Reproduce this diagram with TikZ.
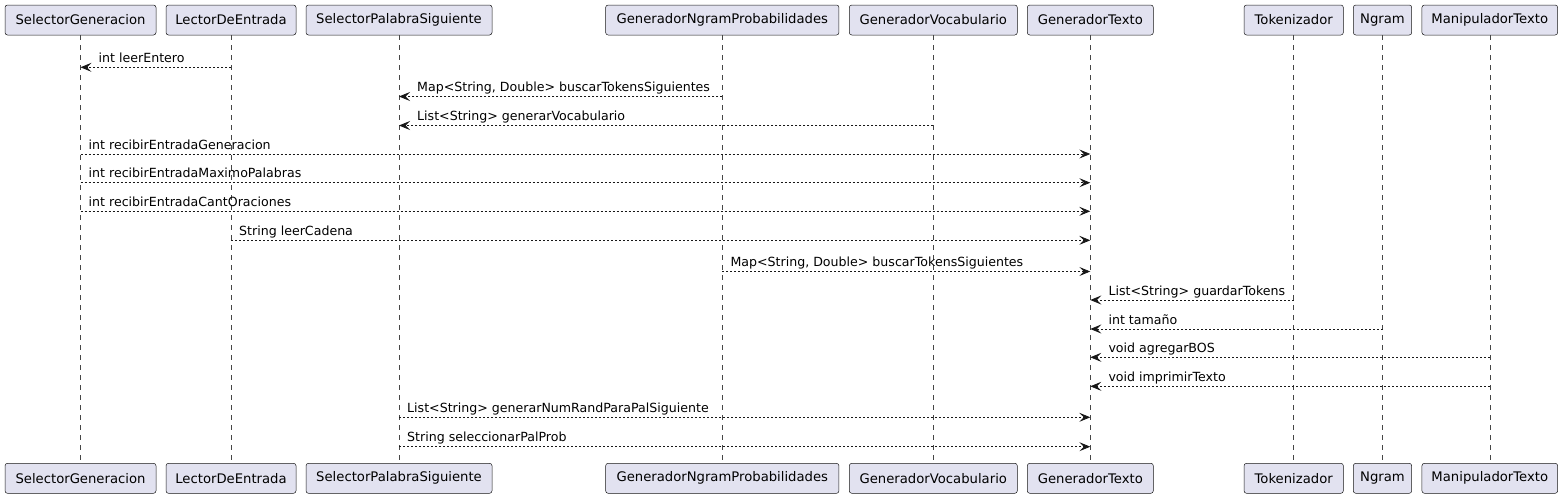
\documentclass[tikz,border=0pt]{standalone}
\usepackage{fontspec}
\setmainfont{DejaVu Sans}
\usepackage{xcolor}
\usetikzlibrary{arrows.meta}
\definecolor{umlfill}{RGB}{226,226,240}
\definecolor{umlline}{RGB}{24,24,24}
\tikzset{
  actor/.style={draw=umlline,fill=umlfill,line width=0.5pt,rounded corners=2.5pt,
    minimum height=30pt,inner sep=0pt,font=\fontsize{13.2}{16}\selectfont},
  lifeline/.style={umlline!80,line width=0.5pt,dash pattern=on 5pt off 5pt},
  msg/.style={umlline,line width=0.8pt,dash pattern=on 2pt off 2pt,
    -{Stealth[length=11pt,width=9pt,inset=4.5pt]}},
  msgtext/.style={anchor=base west,inner sep=0pt,text=black,font=\fontsize{12.6}{15}\selectfont}
}

\begin{document}
\begin{tikzpicture}[x=1pt,y=-1pt]
  \useasboundingbox (0,0) rectangle (1566,498);
  % participants, top and bottom, with their lifelines
  \foreach \name/\x/\w/\txt in {selGen/80.5/151/SelectorGeneracion,
      lector/231/130/LectorDeEntrada,
      selPal/399/186/SelectorPalabraSiguiente,
      genNgram/722.3/233.3/GeneradorNgramProbabilidades,
      genVoc/933.3/168/GeneradorVocabulario,
      genTxt/1090.3/126/GeneradorTexto,
      tok/1293.7/99.3/Tokenizador,
      ngram/1382.5/58.4/Ngram,
      manip/1489.8/135.7/ManipuladorTexto}{
    \node[actor,minimum width=\w pt] (\name-top) at (\x,20) {\txt};
    \node[actor,minimum width=\w pt] (\name-bot) at (\x,478.3) {\txt};
    \draw[lifeline] (\name-top) -- (\name-bot);
  }
  % replies pointing left
  \foreach \y/\src/\dst/\txt in {67.3/lector/selGen/int leerEntero,
      96.5/genNgram/selPal/{Map<String, Double> buscarTokensSiguientes},
      125.5/genVoc/selPal/{List<String> generarVocabulario},
      300/tok/genTxt/{List<String> guardarTokens},
      329/ngram/genTxt/int tamaño,
      357.3/manip/genTxt/void agregarBOS,
      386.3/manip/genTxt/void imprimirTexto}{
    \draw[msg] (\src-top |- 0,\y) -- (\dst-top |- 0,\y);
    \path (\dst-top |- 0,\y) ++(18,-5) node[msgtext] (msgL\y) {\txt};
  }
  % replies pointing right
  \foreach \y/\src/\dst/\txt in {154/selGen/genTxt/int recibirEntradaGeneracion,
      182.7/selGen/genTxt/int recibirEntradaMaximoPalabras,
      211.3/selGen/genTxt/int recibirEntradaCantOraciones,
      240.3/lector/genTxt/String leerCadena,
      271.5/genNgram/genTxt/{Map<String, Double> buscarTokensSiguientes},
      417.3/selPal/genTxt/{List<String> generarNumRandParaPalSiguiente},
      446.7/selPal/genTxt/String seleccionarPalProb}{
    \draw[msg] (\src-top |- 0,\y) -- (\dst-top |- 0,\y);
    \path (\src-top |- 0,\y) ++(8,-5) node[msgtext] (msgR\y) {\txt};
  }
\end{tikzpicture}
\end{document}
